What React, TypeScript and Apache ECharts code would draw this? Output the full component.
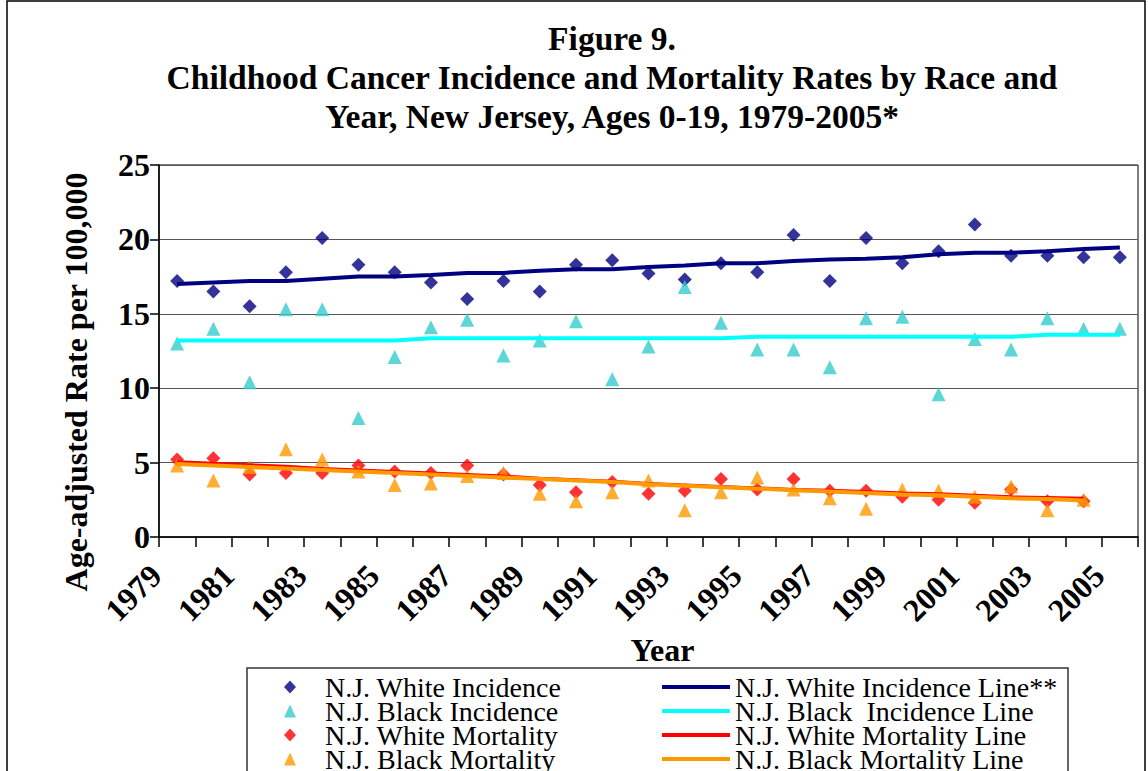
import React, { useEffect, useRef } from "react";
import * as echarts from "echarts";

const years = [
  "1979", "1980", "1981", "1982", "1983", "1984", "1985", "1986", "1987", "1988",
  "1989", "1990", "1991", "1992", "1993", "1994", "1995", "1996", "1997", "1998",
  "1999", "2000", "2001", "2002", "2003", "2004", "2005",
];

const whiteIncidence = [
  17.2, 16.5, 15.5, 17.8, 20.1, 18.3, 17.8, 17.1, 16.0, 17.2,
  16.5, 18.3, 18.6, 17.7, 17.3, 18.4, 17.8, 20.3, 17.2, 20.1,
  18.4, 19.2, 21.0, 18.9, 18.9, 18.8, 18.8,
];
const blackIncidence = [
  13.0, 14.0, 10.4, 15.3, 15.3, 8.0, 12.1, 14.1, 14.6, 12.2,
  13.2, 14.5, 10.6, 12.8, 16.8, 14.4, 12.6, 12.6, 11.4, 14.7,
  14.8, 9.6, 13.3, 12.6, 14.7, 14.0, 14.0,
];
const whiteMortality = [
  5.2, 5.3, 4.2, 4.3, 4.3, 4.8, 4.4, 4.3, 4.8, 4.2,
  3.5, 3.0, 3.7, 2.9, 3.1, 3.9, 3.2, 3.9, 3.1, 3.1,
  2.7, 2.5, 2.3, 3.2, 2.4, 2.4,
];
const blackMortality = [
  4.8, 3.8, 4.7, 5.9, 5.2, 4.4, 3.5, 3.6, 4.1, 4.3,
  2.9, 2.4, 3.0, 3.8, 1.8, 3.0, 4.0, 3.2, 2.6, 1.9,
  3.2, 3.1, 2.7, 3.4, 1.8, 2.5,
];

const whiteIncidenceLine = [
  17.0, 17.1, 17.2, 17.2, 17.35, 17.5, 17.5, 17.6, 17.75, 17.75,
  17.9, 18.0, 18.0, 18.15, 18.25, 18.4, 18.4, 18.55, 18.65, 18.7,
  18.8, 19.0, 19.1, 19.1, 19.2, 19.35, 19.45,
];
const blackIncidenceLine = [
  13.2, 13.2, 13.2, 13.2, 13.2, 13.2, 13.2, 13.35, 13.35, 13.35,
  13.35, 13.35, 13.35, 13.35, 13.35, 13.35, 13.45, 13.45, 13.45, 13.45,
  13.45, 13.45, 13.45, 13.45, 13.6, 13.6, 13.6,
];
const whiteMortalityLine = [
  5.05, 4.95, 4.85, 4.75, 4.6, 4.5, 4.4, 4.3, 4.2, 4.1,
  3.95, 3.85, 3.75, 3.6, 3.5, 3.4, 3.3, 3.2, 3.15, 3.05,
  2.95, 2.9, 2.8, 2.7, 2.65, 2.6,
];
const blackMortalityLine = [
  4.9, 4.8, 4.7, 4.6, 4.5, 4.4, 4.3, 4.2, 4.1, 4.0,
  3.9, 3.8, 3.7, 3.55, 3.45, 3.35, 3.25, 3.15, 3.05, 2.95,
  2.85, 2.8, 2.7, 2.6, 2.55, 2.45,
];

const titleLines = [
  "Figure 9.",
  "Childhood Cancer Incidence and Mortality Rates by Race and",
  "Year, New Jersey, Ages 0-19, 1979-2005*",
];

const FONT = "'Liberation Serif', 'Times New Roman', serif";

export default function App() {
  const ref = useRef<HTMLDivElement>(null);
  useEffect(() => {
    if (!ref.current) return;
    const chart = echarts.init(ref.current, null, { renderer: "svg" });
    const pointNames = [
      "N.J. White Incidence",
      "N.J. Black Incidence",
      "N.J. White Mortality",
      "N.J. Black Mortality",
    ];
    const lineNames = [
      "N.J. White Incidence Line**",
      "N.J. Black  Incidence Line",
      "N.J. White Mortality Line",
      "N.J. Black Mortality Line",
    ];
    const legendText = { fontFamily: FONT, fontSize: 28, color: "#000", lineHeight: 24, height: 24 };
    chart.setOption({
      animation: false,
      backgroundColor: "#ffffff",
      textStyle: { fontFamily: FONT },
      title: {
        text: titleLines.join("\n"),
        left: 612,
        top: 19,
        padding: 0,
        textAlign: "center",
        textStyle: {
          fontFamily: FONT,
          fontSize: 33.5,
          fontWeight: "bold",
          color: "#000",
          lineHeight: 39,
        },
      },
      grid: {
        left: 159,
        right: 10,
        top: 165,
        bottom: 234,
        show: true,
        borderColor: "#000",
        borderWidth: 1,
        backgroundColor: "transparent",
      },
      legend: [
        {
          data: pointNames,
          orient: "vertical",
          left: 284,
          top: 673,
          height: 130,
          itemWidth: 12,
          itemHeight: 13,
          itemGap: -4,
          padding: 0,
          textStyle: { ...legendText, padding: [0, 0, 0, 24] },
        },
        {
          data: lineNames,
          orient: "vertical",
          left: 662,
          top: 673,
          height: 130,
          icon: "rect",
          itemWidth: 68,
          itemHeight: 4,
          itemGap: -4,
          padding: 0,
          textStyle: legendText,
        },
      ],
      xAxis: {
        type: "category",
        data: years,
        boundaryGap: true,
        name: "Year",
        nameLocation: "middle",
        nameGap: 97,
        nameTextStyle: {
          fontFamily: FONT,
          fontSize: 32,
          fontWeight: "bold",
          color: "#000",
          padding: [0, 0, 0, 28],
        },
        axisLine: { lineStyle: { color: "#000", width: 1.5 } },
        axisTick: { show: true, interval: 0, length: 10, lineStyle: { color: "#000", width: 1.5 } },
        axisLabel: {
          interval: 1,
          rotate: 45,
          margin: 12,
          padding: [0, 30, 0, 0],
          fontFamily: FONT,
          fontSize: 32,
          fontWeight: "bold",
          color: "#000",
        },
        splitLine: { show: false },
      },
      yAxis: {
        type: "value",
        min: 0,
        max: 25,
        interval: 5,
        name: "Age-adjusted Rate per 100,000",
        nameLocation: "middle",
        nameGap: 67,
        nameRotate: 90,
        nameTextStyle: {
          fontFamily: FONT,
          fontSize: 32,
          fontWeight: "bold",
          color: "#000",
          padding: [0, 62, 0, 0],
        },
        axisLine: { show: true, lineStyle: { color: "#000", width: 1.5 } },
        axisTick: { show: true, length: 9, lineStyle: { color: "#000", width: 1.5 } },
        axisLabel: {
          margin: 9,
          fontFamily: FONT,
          fontSize: 32,
          fontWeight: "bold",
          color: "#000",
        },
        splitLine: { show: true, lineStyle: { color: "#555", width: 1.2 } },
      },
      graphic: [
        {
          type: "rect",
          shape: { x: 7, y: 1, width: 1138, height: 800 },
          style: { fill: "none", stroke: "#000", lineWidth: 1.5 },
          silent: true,
        },
        {
          type: "rect",
          shape: { x: 247, y: 668, width: 821, height: 200 },
          style: { fill: "none", stroke: "#333", lineWidth: 1.5 },
          silent: true,
        },
      ],
      series: [
        {
          name: lineNames[0],
          type: "line",
          data: whiteIncidenceLine,
          symbol: "none",
          lineStyle: { color: "#000080", width: 4 },
          itemStyle: { color: "#000080" },
        },
        {
          name: lineNames[1],
          type: "line",
          data: blackIncidenceLine,
          symbol: "none",
          lineStyle: { color: "#00FFFF", width: 4 },
          itemStyle: { color: "#00FFFF" },
        },
        {
          name: lineNames[2],
          type: "line",
          data: whiteMortalityLine,
          symbol: "none",
          lineStyle: { color: "#FF0000", width: 3 },
          itemStyle: { color: "#FF0000" },
        },
        {
          name: lineNames[3],
          type: "line",
          data: blackMortalityLine,
          symbol: "none",
          lineStyle: { color: "#FF9900", width: 4 },
          itemStyle: { color: "#FF9900" },
        },
        {
          name: pointNames[0],
          type: "scatter",
          data: whiteIncidence,
          symbol: "diamond",
          symbolSize: 14,
          itemStyle: { color: "#000080" },
        },
        {
          name: pointNames[1],
          type: "scatter",
          data: blackIncidence,
          symbol: "triangle",
          symbolSize: 14,
          itemStyle: { color: "#33CCCC" },
        },
        {
          name: pointNames[2],
          type: "scatter",
          data: whiteMortality,
          symbol: "diamond",
          symbolSize: 14,
          itemStyle: { color: "#FF0000" },
        },
        {
          name: pointNames[3],
          type: "scatter",
          data: blackMortality,
          symbol: "triangle",
          symbolSize: 14,
          itemStyle: { color: "#FF9900" },
        },
      ],
    });
    return () => chart.dispose();
  }, []);
  return (
    <div
      ref={ref}
      style={{ position: "absolute", left: 0, top: 0, width: 1148, height: 771, background: "#fff" }}
    />
  );
}
